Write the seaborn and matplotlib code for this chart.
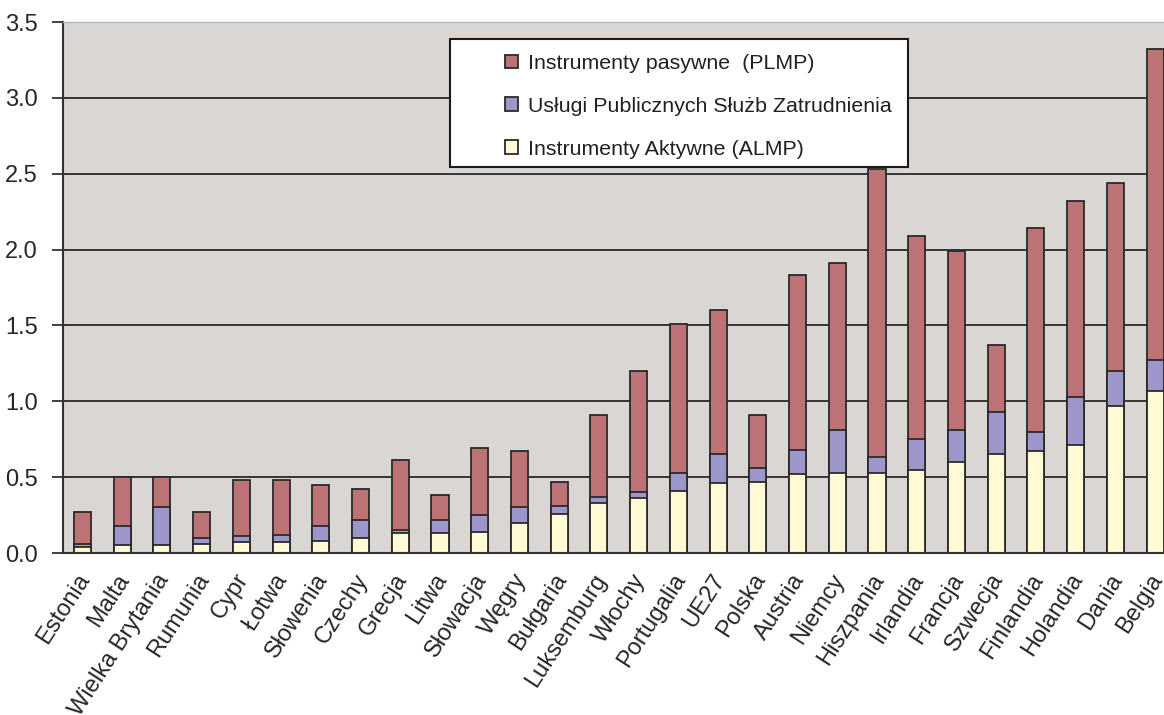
import numpy as np
import pandas as pd
import matplotlib
matplotlib.use("Agg")
import matplotlib.pyplot as plt
import matplotlib.patches as mpatches
import seaborn as sns

countries = ["Estonia", "Malta", "Wielka Brytania", "Rumunia", "Cypr", "Łotwa",
             "Słowenia", "Czechy", "Grecja", "Litwa", "Słowacja", "Węgry",
             "Bułgaria", "Luksemburg", "Włochy", "Portugalia", "UE27", "Polska",
             "Austria", "Niemcy", "Hiszpania", "Irlandia", "Francja", "Szwecja",
             "Finlandia", "Holandia", "Dania", "Belgia"]

almp = [0.04, 0.05, 0.05, 0.06, 0.07, 0.07, 0.08, 0.10, 0.13, 0.13, 0.14, 0.20,
        0.26, 0.33, 0.36, 0.41, 0.46, 0.47, 0.52, 0.53, 0.53, 0.55, 0.60, 0.65,
        0.67, 0.71, 0.97, 1.07]
pes = [0.02, 0.13, 0.25, 0.04, 0.04, 0.05, 0.10, 0.12, 0.02, 0.09, 0.11, 0.10,
       0.05, 0.04, 0.04, 0.12, 0.19, 0.09, 0.16, 0.28, 0.10, 0.20, 0.21, 0.28,
       0.13, 0.32, 0.23, 0.20]
plmp = [0.21, 0.32, 0.20, 0.17, 0.37, 0.36, 0.27, 0.20, 0.46, 0.16, 0.44, 0.37,
        0.16, 0.54, 0.80, 0.98, 0.95, 0.35, 1.15, 1.10, 1.90, 1.34, 1.18, 0.44,
        1.34, 1.29, 1.24, 2.05]

labels = ["Instrumenty pasywne  (PLMP)",
          "Usługi Publicznych Służb Zatrudnienia",
          "Instrumenty Aktywne (ALMP)"]
yticks = [0.0, 0.5, 1.0, 1.5, 2.0, 2.5, 3.0, 3.5]

c_plmp = "#BD7276"
c_pes = "#9D96CA"
c_almp = "#FFFAD4"
bg = "#DAD6D3"
edge = "#2a2a2a"

df = pd.DataFrame({"country": countries, "almp": almp, "pes": pes, "plmp": plmp})
df["mid"] = df["almp"] + df["pes"]
df["total"] = df["mid"] + df["plmp"]

sns.set_theme(style="white")
plt.rcParams["font.family"] = ["Liberation Sans", "DejaVu Sans"]
plt.rcParams["text.color"] = "#231f20"

fig = plt.figure(figsize=(11.64, 7.15), dpi=100)
ax = fig.add_axes([62.6 / 1164, 1 - 553 / 715, (1175 - 62.6) / 1164, (553 - 22) / 715])
ax.set_facecolor(bg)

kw = dict(x="country", width=0.43, saturation=1, edgecolor=edge, linewidth=1.3, ax=ax,
          order=countries)
sns.barplot(data=df, y="total", color=c_plmp, label=labels[0], **kw)
sns.barplot(data=df, y="mid", color=c_pes, label=labels[1], **kw)
sns.barplot(data=df, y="almp", color=c_almp, label=labels[2], **kw)
if ax.get_legend() is not None:
    ax.get_legend().remove()

ax.set_xlim(-0.5, len(countries) - 0.5)
ax.set_ylim(0, 3.5)
ax.set_yticks(yticks)
ax.set_yticklabels([f"{v:.1f}" for v in yticks], fontsize=17)
ax.yaxis.grid(True, color="#1a1a1a", linewidth=1.2)
ax.xaxis.grid(False)
ax.set_axisbelow(True)
ax.set_xlabel("")
ax.set_ylabel("")

# label anchors nudged slightly left of bar centres (as in the original layout)
ax.set_xticks(np.arange(len(countries)) - 0.17)
ax.set_xticklabels(countries, rotation=57, ha="right", va="top",
                   rotation_mode="anchor", fontsize=17)
ax.set_xticks(np.arange(-0.5, len(countries), 1.0), minor=True)
ax.tick_params(axis="x", which="major", length=0, pad=12)
ax.tick_params(axis="x", which="minor", length=8, width=1.3, color="#333333", direction="out")
ax.tick_params(axis="y", length=8, width=1.3, color="#333333", pad=10, left=True)

for s in ["left", "bottom"]:
    ax.spines[s].set_color("#333333")
    ax.spines[s].set_linewidth(1.5)
ax.spines["right"].set_visible(False)
ax.spines["top"].set_color("#b5b5b5")
ax.spines["top"].set_linewidth(1.0)

# legend box
box = mpatches.Rectangle((450 / 1164, 1 - 167 / 715), (908 - 450) / 1164, (167 - 39) / 715,
                         transform=fig.transFigure, facecolor="white", edgecolor="#1a1a1a",
                         linewidth=1.5, zorder=5)
fig.patches.append(box)

handles, hl = ax.get_legend_handles_labels()
leg = fig.legend(handles, hl, loc="upper left", bbox_to_anchor=(505 / 1164, 1 - 54 / 715),
                 frameon=False, fontsize=15.4, handlelength=0.62, handleheight=0.62,
                 handletextpad=0.45, labelspacing=1.12, borderpad=0, borderaxespad=0)
leg.set_zorder(6)

fig.savefig("out.png", dpi=100)
